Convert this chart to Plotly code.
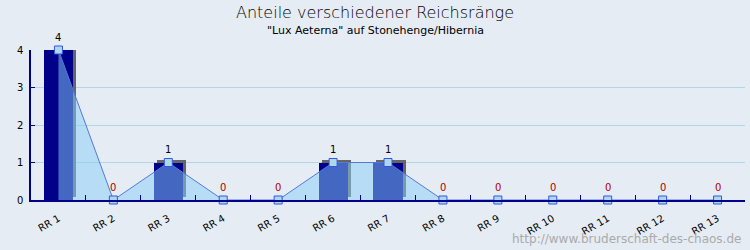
import plotly.graph_objects as go

categories = ["RR 1", "RR 2", "RR 3", "RR 4", "RR 5", "RR 6", "RR 7",
              "RR 8", "RR 9", "RR 10", "RR 11", "RR 12", "RR 13"]
values = [4, 0, 1, 0, 0, 1, 1, 0, 0, 0, 0, 0, 0]
title = "Anteile verschiedener Reichsränge"
subtitle = "\"Lux Aeterna\" auf Stonehenge/Hibernia"
watermark = "http://www.bruderschaft-des-chaos.de"

BG = "#e6ecf3"
AXIS = "#00008b"
BAR_W = 0.53
SH_DX = 0.055
SH_DY = 0.08
FONT = "DejaVu Sans"

fig = go.Figure()

# shadow bars
fig.add_trace(go.Bar(
    x=categories,
    y=[v if v else None for v in values],
    base=SH_DY,
    width=BAR_W,
    offset=-BAR_W / 2 + SH_DX,
    marker=dict(color="#666666", line=dict(width=0)),
    hoverinfo="skip", showlegend=False,
))
# main bars
fig.add_trace(go.Bar(
    x=categories,
    y=[v if v else None for v in values],
    width=BAR_W,
    offset=-BAR_W / 2,
    marker=dict(color="#000088", line=dict(width=0)),
    showlegend=False,
))
# area + line + markers
fig.add_trace(go.Scatter(
    x=categories, y=values,
    mode="lines+markers",
    fill="tozeroy",
    fillcolor="rgba(135,206,250,0.5)",
    line=dict(color="#5577dd", width=1),
    marker=dict(symbol="square", size=8, color="#add8e6",
                line=dict(color="#3355ee", width=1)),
    cliponaxis=False,
    showlegend=False,
))

for c, v in zip(categories, values):
    fig.add_annotation(
        x=c, y=v, text=str(v), showarrow=False, yshift=13,
        font=dict(family=FONT, size=10, color="#000000" if v else "#aa0000"),
    )

TX = (375 - 31) / 714
fig.add_annotation(x=TX, y=1, xref="paper", yref="paper", text=title,
                   showarrow=False, xanchor="center", yanchor="top", yshift=49,
                   font=dict(family=FONT, size=16, color="#000000", weight=300))
fig.add_annotation(x=TX, y=1, xref="paper", yref="paper", text=subtitle,
                   showarrow=False, xanchor="center", yanchor="top", yshift=28,
                   font=dict(family=FONT, size=11, color="#000000"))
fig.add_annotation(x=1, y=0, xref="paper", yref="paper", text=watermark,
                   showarrow=False, xanchor="right", yanchor="bottom",
                   xshift=-2, yshift=-48,
                   font=dict(family=FONT, size=12, color="#aaaaaa"))

fig.update_layout(
    width=750, height=250,
    margin=dict(l=31, r=5, t=50, b=50),
    paper_bgcolor=BG, plot_bgcolor=BG,
    barmode="overlay",
    bargap=0,
    font=dict(family=FONT, size=10, color="#000000"),
    xaxis=dict(
        type="category", tickson="boundaries", ticks="inside", ticklen=5,
        tickcolor=AXIS, tickwidth=1, showline=True, linecolor=AXIS, linewidth=2,
        showgrid=False, tickangle=-30, range=[-0.5, len(categories) - 0.5],
        ticklabelstandoff=7,
        tickfont=dict(family=FONT, size=10, color="#000000"),
    ),
    yaxis=dict(
        range=[0, 4], tickvals=[0, 1, 2, 3, 4], ticks="inside", ticklen=4,
        tickcolor=AXIS, showline=True, linecolor=AXIS, linewidth=1.5,
        gridcolor="#add8e6", gridwidth=1, zeroline=False,
        ticklabelstandoff=4,
        tickfont=dict(family=FONT, size=10, color="#000000"),
    ),
)

fig.write_html("out.html")
